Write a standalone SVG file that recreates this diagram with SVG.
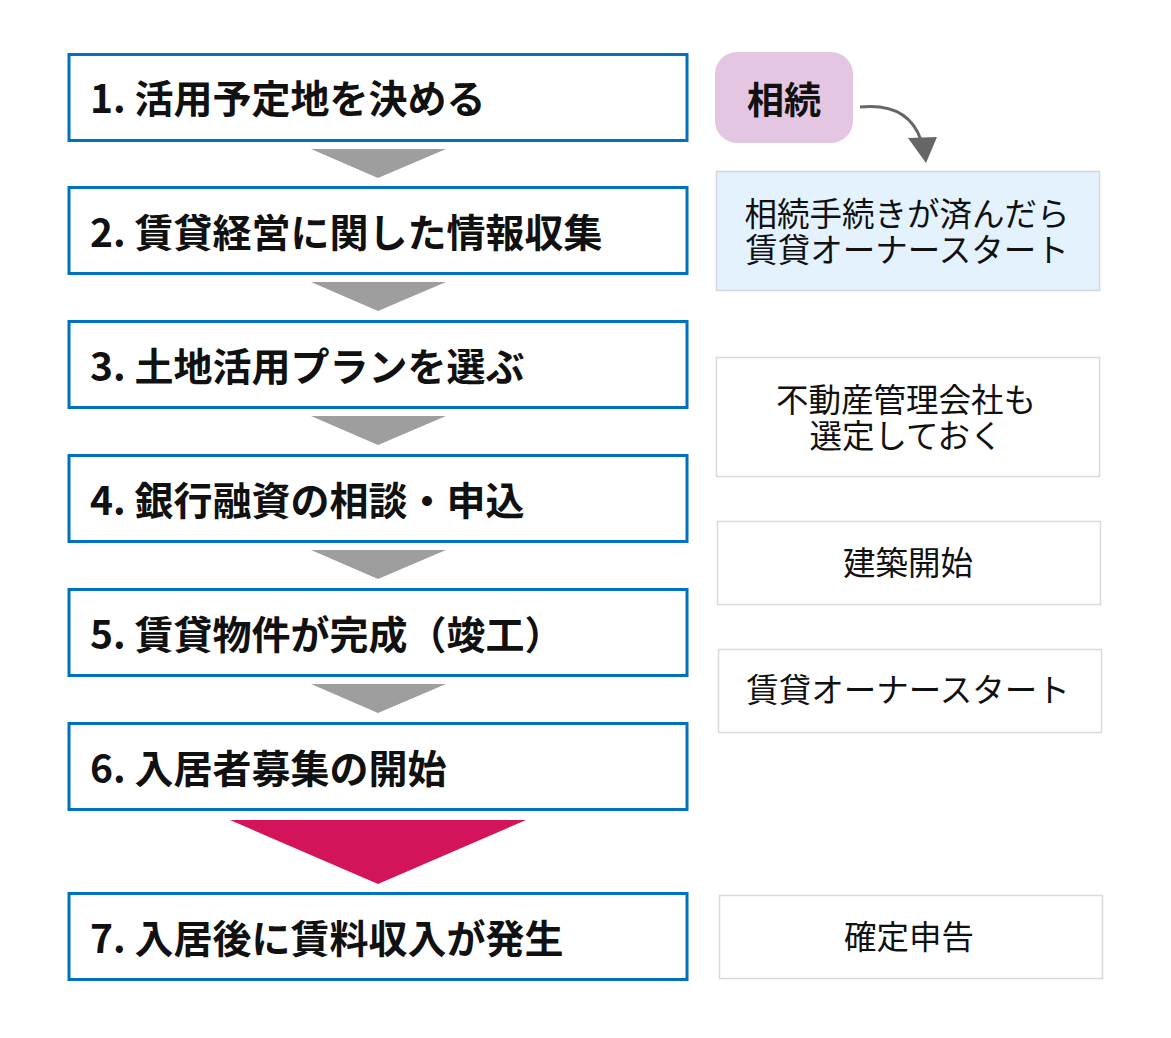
<svg xmlns="http://www.w3.org/2000/svg" width="1171" height="1038" viewBox="0 0 1171 1038">
<defs>
<style>
.step{fill:#fff;stroke:#0070c0;stroke-width:3}
.st{font-family:"Noto Sans CJK JP","Noto Sans",sans-serif;font-weight:bold;font-size:39px;fill:#111}
.note{fill:#fff;stroke:#d9d9d9;stroke-width:1.5}
.nt{font-family:"Noto Sans CJK JP","Noto Sans",sans-serif;font-size:32.5px;fill:#111;text-anchor:middle}
.garr{fill:#9e9e9e}
</style>
</defs>
<rect width="1171" height="1038" fill="#fff"/>
<g id="step1"><rect class="step" x="69" y="54.5" width="618" height="86"/><text class="st" x="90" y="112.5">1. 活用予定地を決める</text></g>
<g id="step2"><rect class="step" x="69" y="187.5" width="618" height="86"/><text class="st" x="90" y="246.5">2. 賃貸経営に関した情報収集</text></g>
<g id="step3"><rect class="step" x="69" y="321.5" width="618" height="86"/><text class="st" x="90" y="380.5">3. 土地活用プランを選ぶ</text></g>
<g id="step4"><rect class="step" x="69" y="455.5" width="618" height="86"/><text class="st" x="90" y="514.5">4. 銀行融資の相談・申込</text></g>
<g id="step5"><rect class="step" x="69" y="589.5" width="618" height="86"/><text class="st" x="90" y="648.5">5. 賃貸物件が完成（竣工）</text></g>
<g id="step6"><rect class="step" x="69" y="723.5" width="618" height="86"/><text class="st" x="90" y="782.5">6. 入居者募集の開始</text></g>
<g id="step7"><rect class="step" x="69" y="893.5" width="618" height="86"/><text class="st" x="90" y="953">7. 入居後に賃料収入が発生</text></g>
<g id="souzoku"><rect x="715" y="52" width="138" height="91" rx="22" fill="#e4c6e2"/><text x="784" y="114" font-family="Noto Sans CJK JP, sans-serif" font-weight="bold" font-size="37" fill="#111" text-anchor="middle">相続</text></g>
<g id="note1"><rect x="716.5" y="171.5" width="383" height="119" fill="#e3f2fd" stroke="#d0d7de" stroke-width="1.5"/><text class="nt"><tspan x="907" y="225.5">相続手続きが済んだら</tspan><tspan x="907" y="262">賃貸オーナースタート</tspan></text></g>
<g id="note2"><rect class="note" x="716.5" y="357.5" width="383" height="119"/><text class="nt"><tspan x="906" y="411.5">不動産管理会社も</tspan><tspan x="906" y="448">選定しておく</tspan></text></g>
<g id="note3"><rect class="note" x="717.5" y="521.5" width="383" height="83"/><text class="nt" x="908" y="575">建築開始</text></g>
<g id="note4"><rect class="note" x="718.5" y="649.5" width="383" height="83"/><text class="nt" x="908" y="702">賃貸オーナースタート</text></g>
<g id="note5"><rect class="note" x="719.5" y="895.5" width="383" height="83"/><text class="nt" x="909" y="949">確定申告</text></g>
<g id="connectors">
<polygon class="garr" points="311,149 446,149 378,178"/>
<polygon class="garr" points="311,282 446,282 378,311"/>
<polygon class="garr" points="311,416 446,416 378,445"/>
<polygon class="garr" points="311,550 446,550 378,579"/>
<polygon class="garr" points="311,684 446,684 378,713"/>
<polygon fill="#d4145a" points="230,820 526,820 378,884"/>
<path d="M860,107 C890,104 912,114 921,140" fill="none" stroke="#666" stroke-width="3"/>
<polygon fill="#666" points="908,138 937,137 926,163"/>
</g>
</svg>
